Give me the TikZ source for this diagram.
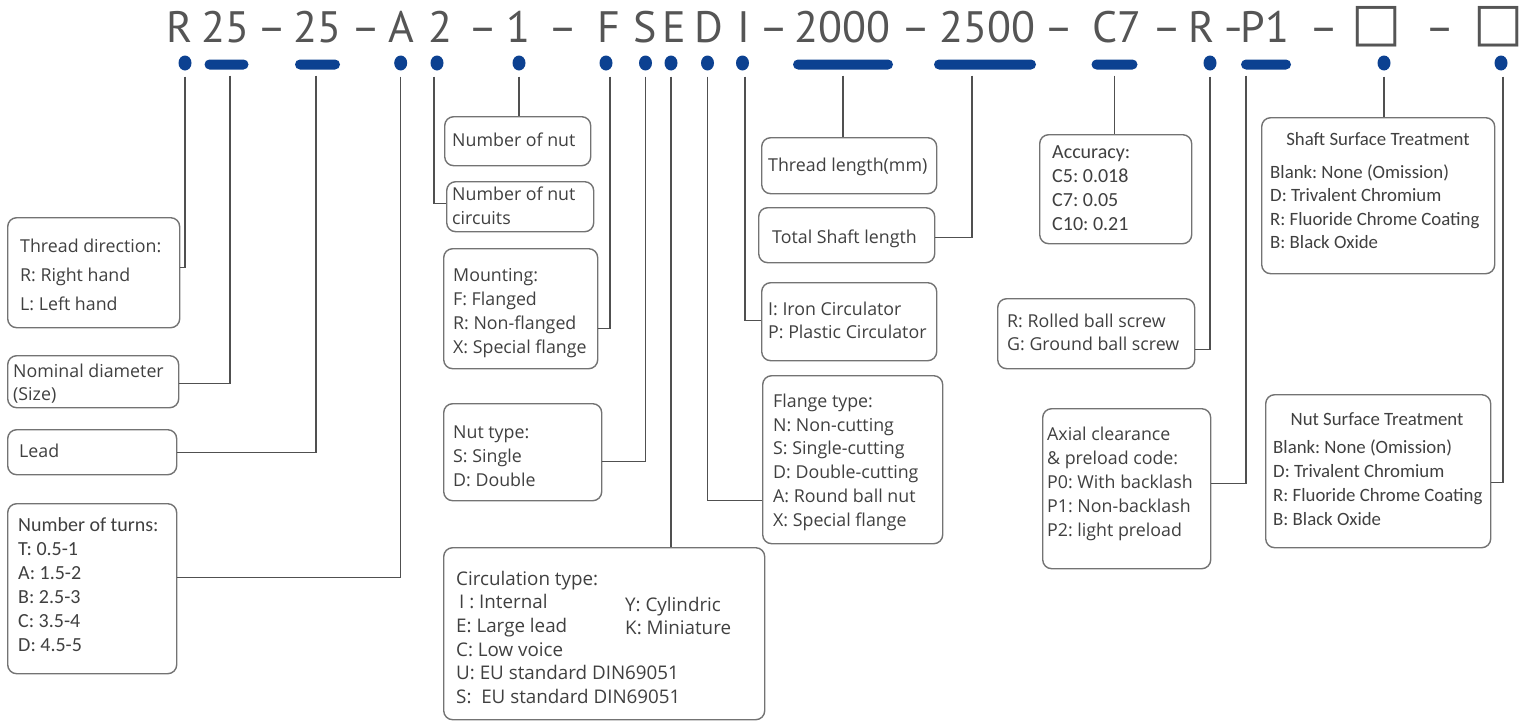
\documentclass[tikz,border=0pt]{standalone}
\usepackage{fontspec}
\setmainfont{Open Sans}
\newfontfamily\narrowf{Carlito}
\newfontfamily\codef{PT Sans}
\newfontfamily\symf{DejaVu Sans}
\usetikzlibrary{shapes.geometric}
\definecolor{dotblue}{RGB}{12,65,145}
\definecolor{txtgray}{RGB}{64,64,64}
\definecolor{codegray}{RGB}{85,85,85}
\definecolor{linegray}{RGB}{80,80,80}
\definecolor{boxgray}{RGB}{115,115,115}
\newcommand\fst{\rule{0pt}{15pt}}
\begin{document}
\frenchspacing
\begin{tikzpicture}[x=1pt,y=-1pt,
 box/.style={draw=boxgray, line width=1.4pt, rounded corners=9pt, fill=white, inner sep=0pt, anchor=north west},
 txt/.style={text=txtgray, font=\fontsize{17.8}{24}\selectfont, align=left, inner sep=0pt, anchor=north west},
 ntxt/.style={text=txtgray, font=\narrowf\fontsize{20}{24}\selectfont, align=left, inner sep=0pt, anchor=north west},
 stxt/.style={text=txtgray, font=\narrowf\fontsize{18.8}{23.5}\selectfont, align=left, inner sep=0pt, anchor=north west},
 code/.style={text=codegray, font=\codef\fontsize{44}{44}\selectfont, inner sep=0pt, anchor=base},
 sq/.style={text=codegray, font=\symf\fontsize{53}{53}\selectfont, inner sep=0pt, anchor=center},
 bdot/.style={ellipse, fill=dotblue, minimum width=13pt, minimum height=15pt, inner sep=0pt},
 bbar/.style={rectangle, rounded corners=5pt, fill=dotblue, minimum height=10pt, inner sep=0pt},
 conn/.style={draw=linegray, line width=1.3pt, shorten <=6pt}
]
\useasboundingbox (0,0) rectangle (1528,723);

% ---- code line ----
\node[code] (cR) at (179.5,42.7) {R};
\node[code] (c25a) at (225.6,42.7) {25};
\node[code] (m1) at (272.5,42.7) {–};
\node[code] (c25b) at (317.6,42.7) {25};
\node[code] (m2) at (366,42.7) {–};
\node[code] (cA) at (401.6,42.7) {A};
\node[code] (c2) at (440,42.7) {2};
\node[code] (m3) at (483.5,42.7) {–};
\node[code] (c1) at (518.5,42.7) {1};
\node[code] (m4) at (563,42.7) {–};
\node[code] (cF) at (609,42.7) {F};
\node[code] (cS) at (645.6,42.7) {S};
\node[code] (cE) at (674,42.7) {E};
\node[code] (cD) at (709,42.7) {D};
\node[code] (cI) at (743.5,42.7) {I};
\node[code] (m5) at (774,42.7) {–};
\node[code] (c2000) at (842.5,42.7) {2000};
\node[code] (m6) at (916,42.7) {–};
\node[code] (c2500) at (987.6,42.7) {2500};
\node[code] (m7) at (1059,42.7) {–};
\node[code] (cC7) at (1117,42.7) {C7};
\node[code] (m8) at (1167,42.7) {–};
\node[code] (cR2) at (1201.6,42.7) {R};
\node[code] (m9) at (1233.5,42.7) {\scalebox{0.7}[1]{–}};
\node[code] (cP1) at (1265,42.7) {P1};
\node[code] (m10) at (1324,42.7) {–};
\node[sq] (cB1) at (1377,27) {□};
\node[code] (m11) at (1440,42.7) {–};
\node[sq] (cB2) at (1499,27) {□};

% ---- markers ----
\node[bdot] (dR) at (185,63) {};
\node[bbar, minimum width=44pt] (d25a) at (226.5,64.5) {};
\node[bbar, minimum width=45pt] (d25b) at (317.5,64.5) {};
\node[bdot] (dA) at (400.7,63) {};
\node[bdot] (d2) at (437,63) {};
\node[bdot] (d1) at (519,63) {};
\node[bdot] (dF) at (606,63) {};
\node[bdot] (dS) at (645.5,63) {};
\node[bdot] (dE) at (671,63) {};
\node[bdot] (dD) at (707.5,63) {};
\node[bdot] (dI) at (742.5,63) {};
\node[bbar, minimum width=100pt] (d2000) at (843,64.5) {};
\node[bbar, minimum width=102pt] (d2500) at (985,64.5) {};
\node[bbar, minimum width=46pt] (dC7) at (1114.5,64.5) {};
\node[bdot] (dR2) at (1210,63) {};
\node[bbar, minimum width=50pt] (dP1) at (1266,64.5) {};
\node[bdot] (dB1) at (1384,63) {};
\node[bdot] (dB2) at (1501,63) {};

% ---- boxes ----
\node[box, minimum width=172pt, minimum height=110pt] (bDir) at (7,217) {};
\node[box, minimum width=171pt, minimum height=52pt] (bNom) at (7,355) {};
\node[box, minimum width=169pt, minimum height=45pt] (bLead) at (7,429) {};
\node[box, minimum width=169pt, minimum height=170pt] (bTurns) at (7,503) {};
\node[box, minimum width=146pt, minimum height=49pt] (bNut) at (444,116) {};
\node[box, minimum width=147pt, minimum height=50pt] (bCirc) at (446,181) {};
\node[box, minimum width=154pt, minimum height=120pt] (bMount) at (443,248) {};
\node[box, minimum width=158pt, minimum height=97pt] (bNutType) at (443,403) {};
\node[box, minimum width=321pt, minimum height=172pt] (bCircType) at (443,547) {};
\node[box, minimum width=175pt, minimum height=56pt] (bThread) at (761,137) {};
\node[box, minimum width=176pt, minimum height=55pt] (bTotal) at (758,207) {};
\node[box, minimum width=175pt, minimum height=78pt] (bIron) at (761,282) {};
\node[box, minimum width=180pt, minimum height=168pt] (bFlange) at (762,375) {};
\node[box, minimum width=152pt, minimum height=109pt] (bAcc) at (1039,134) {};
\node[box, minimum width=197pt, minimum height=70pt] (bRolled) at (997,298) {};
\node[box, minimum width=168pt, minimum height=160pt] (bAxial) at (1042,408) {};
\node[box, minimum width=233pt, minimum height=156pt] (bShaft) at (1261,117) {};
\node[box, minimum width=225pt, minimum height=153pt] (bNutS) at (1265,394) {};

% ---- texts ----
\node[txt, font=\fontsize{17.8}{29}\selectfont] (tDir) at (20,237) {\fst Thread direction:\\R: Right hand\\L: Left hand};
\node[txt, font=\fontsize{17.8}{23}\selectfont] (tNom) at (13,362) {\fst Nominal diameter\\(Size)};
\node[txt] (tLead) at (19,442) {\fst Lead};
\node[ntxt] (tTurns) at (18,516) {\fst Number of turns:\\T: 0.5-1\\A: 1.5-2\\B: 2.5-3\\C: 3.5-4\\D: 4.5-5};
\node[txt] (tNut) at (452,131) {\fst Number of nut};
\node[txt] (tCirc) at (452,185) {\fst Number of nut\\circuits};
\node[txt] (tMount) at (453,266) {\fst Mounting:\\F: Flanged\\R: Non-flanged\\X: Special flange};
\node[txt] (tNutType) at (453,423) {\fst Nut type:\\S: Single\\D: Double};
\node[txt, font=\fontsize{18.8}{23.6}\selectfont] (tCircType) at (456,570) {\fst Circulation type:\\\hspace{3pt}I : Internal\\E: Large lead\\C: Low voice\\U: EU standard DIN69051\\S:\ \ EU standard DIN69051};
\node[txt, font=\fontsize{18.8}{23}\selectfont] (tCirc2) at (625,596) {\fst Y: Cylindric\\K: Miniature};
\node[txt] (tThread) at (768,156) {\fst Thread length(mm)};
\node[txt] (tTotal) at (772,228) {\fst Total Shaft length};
\node[txt, font=\fontsize{17.8}{23}\selectfont] (tIron) at (768,300) {\fst I: Iron Circulator\\P: Plastic Circulator};
\node[txt, font=\fontsize{17.8}{23.8}\selectfont] (tFlange) at (773,392) {\fst Flange type:\\N: Non-cutting\\S: Single-cutting\\D: Double-cutting\\A: Round ball nut\\X: Special flange};
\node[ntxt] (tAcc) at (1052,143) {\fst Accuracy:\\C5: 0.018\\C7: 0.05\\C10: 0.21};
\node[txt, font=\fontsize{17.8}{23}\selectfont] (tRolled) at (1007,312) {\fst R: Rolled ball screw\\G: Ground ball screw};
\node[txt] (tAxial) at (1047,425) {\fst Axial clearance\\\&\ preload code:\\P0: With backlash\\P1: Non-backlash\\P2: light preload};
\node[stxt, anchor=base] (tShaftT) at (1378,145) {Shaft Surface Treatment};
\node[stxt] (tShaft) at (1270,163) {\fst Blank: None (Omission)\\D: Trivalent Chromium\\R: Fluoride Chrome Coating\\B: Black Oxide};
\node[stxt, anchor=base] (tNutT) at (1377,425) {Nut Surface Treatment};
\node[stxt, font=\narrowf\fontsize{18.8}{24}\selectfont] (tNutS) at (1273,438) {\fst Blank: None (Omission)\\D: Trivalent Chromium\\R: Fluoride Chrome Coating\\B: Black Oxide};

% ---- connectors ----
\draw[conn] (dR.south) |- ([yshift=5pt]bDir.east);
\draw[conn] ([xshift=3.5pt]d25a.south) |- ([yshift=-2pt]bNom.east);
\draw[conn] ([xshift=-1.5pt]d25b.south) |- (bLead.east);
\draw[conn] (dA.south) |- ([yshift=11pt]bTurns.east);
\draw[conn] ([xshift=-3pt]d2.south) |- ([yshift=3pt]bCirc.west);
\draw[conn] (d1.south) -- (d1.south |- bNut.north);
\draw[conn] ([xshift=4pt]dF.south) |- ([yshift=-20pt]bMount.east);
\draw[conn] (dS.south) |- ([yshift=-9.5pt]bNutType.east);
\draw[conn] (dE.south) -- (dE.south |- bCircType.north);
\draw[conn] (dD.south) |- ([yshift=-41pt]bFlange.west);
\draw[conn] ([xshift=2.5pt]dI.south) |- ([yshift=1pt]bIron.west);
\draw[conn] (d2000.south) -- (d2000.south |- bThread.north);
\draw[conn] ([xshift=-13pt]d2500.south) |- ([yshift=-2.5pt]bTotal.east);
\draw[conn] (dC7.south) -- (dC7.south |- bAcc.north);
\draw[conn] (dR2.south) |- ([yshift=-16pt]bRolled.east);
\draw[conn] ([xshift=-20pt]dP1.south) |- ([yshift=5pt]bAxial.east);
\draw[conn] (dB1.south) -- (dB1.south |- bShaft.north);
\draw[conn] ([xshift=2pt]dB2.south) |- ([yshift=-11.5pt]bNutS.east);
\end{tikzpicture}
\end{document}
